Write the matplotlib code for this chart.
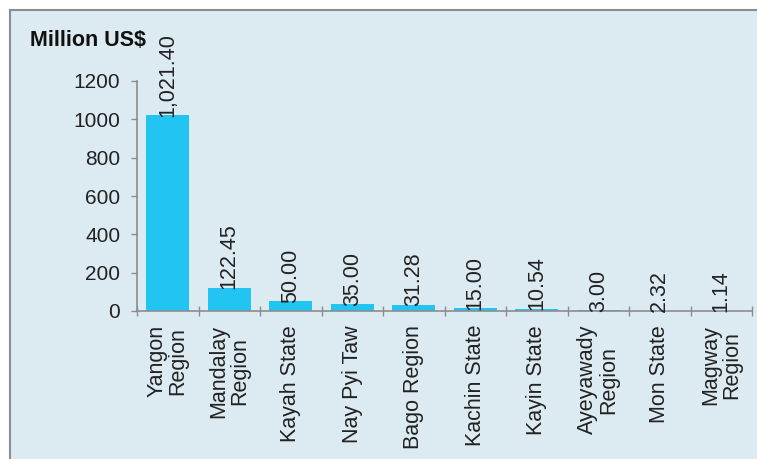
import numpy as np
import matplotlib.pyplot as plt
from matplotlib.patches import Rectangle

# Investment by region / state
regions = ['Yangon\nRegion', 'Mandalay\nRegion', 'Kayah State', 'Nay Pyi Taw',
           'Bago Region', 'Kachin State', 'Kayin State', 'Ayeyawady\nRegion',
           'Mon State', 'Magway\nRegion']
values = [1021.40, 122.45, 50.00, 35.00, 31.28, 15.00, 10.54, 3.00, 2.32, 1.14]
value_labels = ['1,021.40', '122.45', '50.00', '35.00', '31.28', '15.00',
                '10.54', '3.00', '2.32', '1.14']
yticks = [0, 200, 400, 600, 800, 1000, 1200]

plt.rcParams['font.family'] = ['Liberation Sans', 'DejaVu Sans']

fig = plt.figure(figsize=(7.57, 4.59), dpi=100)
fig.patch.set_facecolor('white')

# light blue panel with a grey frame on the top and left
panel = Rectangle((10 / 757, 0), 1, 1 - 10 / 459, transform=fig.transFigure,
                  facecolor='#dcebf2', edgecolor='none', zorder=-10)
fig.add_artist(panel)
fig.add_artist(plt.Line2D([10 / 757, 1], [1 - 10 / 459, 1 - 10 / 459],
                          transform=fig.transFigure, color='#8c8c8c', lw=1.5,
                          zorder=-9))
fig.add_artist(plt.Line2D([10 / 757, 10 / 757], [0, 1 - 10 / 459],
                          transform=fig.transFigure, color='#8c8c8c', lw=1.5,
                          zorder=-9))

ax = fig.add_axes([137 / 757, 1 - 311 / 459, 615 / 757, 230 / 459])
ax.set_facecolor('none')

x = np.arange(len(values))
ax.bar(x, values, width=0.7, color='#22c4f2', zorder=2)

for xi, v, lab in zip(x, values, value_labels):
    ax.annotate(lab, (xi, v), xytext=(0, -1), textcoords='offset points',
                rotation=90, ha='center', va='bottom', fontsize=15.5,
                color='#222222')

ax.set_xlim(-0.5, len(values) - 0.5)
ax.set_ylim(0, 1200)
ax.set_yticks(yticks)
ax.set_yticklabels([str(t) for t in yticks], fontsize=15, color='#222222')

ax.set_xticks(x)
ax.set_xticklabels(regions, rotation=90, fontsize=15.5, color='#222222',
                   ha='center', va='top', multialignment='center',
                   linespacing=1.0)
ax.tick_params(axis='x', which='major', length=0, pad=10)
ax.set_xticks(np.arange(-0.5, len(values)), minor=True)
ax.tick_params(axis='x', which='minor', length=7, direction='inout',
               color='#8c8c8c', width=1)
ax.tick_params(axis='y', length=4, color='#8c8c8c', width=1, pad=8)

for side in ['top', 'right']:
    ax.spines[side].set_visible(False)
for side in ['left', 'bottom']:
    ax.spines[side].set_color('#8c8c8c')
    ax.spines[side].set_linewidth(1.2)

fig.text(30 / 757, 1 - 40 / 459, 'Million US$', fontsize=15.5,
         fontweight='bold', color='#111111', va='center', ha='left')

fig.savefig('out.png', dpi=100, facecolor=fig.get_facecolor())
